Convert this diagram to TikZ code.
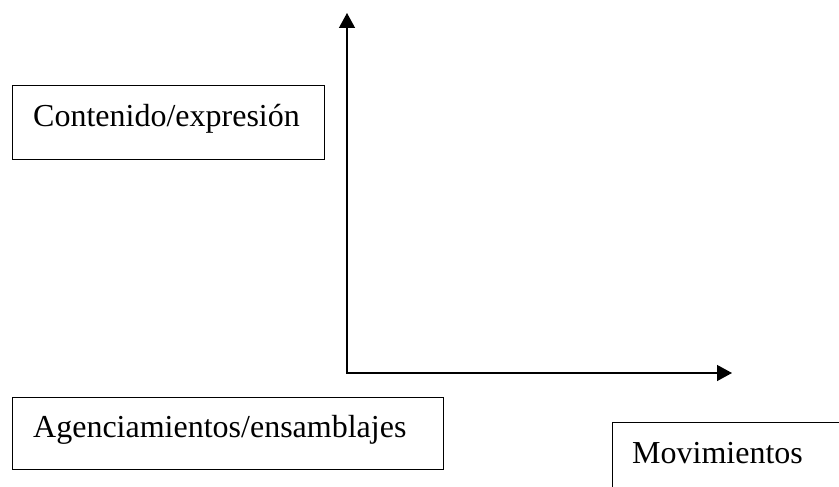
\documentclass[tikz,border=0pt]{standalone}
\usepackage{fontspec}
\setmainfont{Liberation Serif}
\usetikzlibrary{arrows.meta}
\begin{document}
\begin{tikzpicture}[x=1pt,y=-1pt,
  box/.style={draw, line width=1.2pt, rectangle, inner sep=0pt, anchor=north west},
  lbl/.style={anchor=base west, inner sep=0pt, font=\fontsize{32}{38}\selectfont},
  axis/.style={line width=1.4pt, -{Triangle[length=15pt,width=16pt]}}]
\useasboundingbox (0,0) rectangle (839,487);
\clip (0,0) rectangle (839,487);
\fill[white] (0,0) rectangle (839,487);
% boxes
\node[box, minimum width=312pt, minimum height=74pt] (b1) at (12,85) {};
\node[lbl] (t1) at (33,127) {Contenido/expresión};
\node[box, minimum width=431pt, minimum height=72pt] (b2) at (12,397) {};
\node[lbl] (t2) at (33,437) {Agenciamientos/ensamblajes};
\node[box, minimum width=260pt, minimum height=100pt] (b3) at (612,422) {};
\node[lbl] (t3) at (632,463) {Movimientos};
% axes
\coordinate (o) at (347,373);
\coordinate (ytop) at (347,13);
\coordinate (xend) at (732,373);
\draw[axis] ([yshift=-0.7pt]o) -- (ytop);
\draw[axis] ([xshift=-0.7pt]o) -- (xend);
\end{tikzpicture}
\end{document}
